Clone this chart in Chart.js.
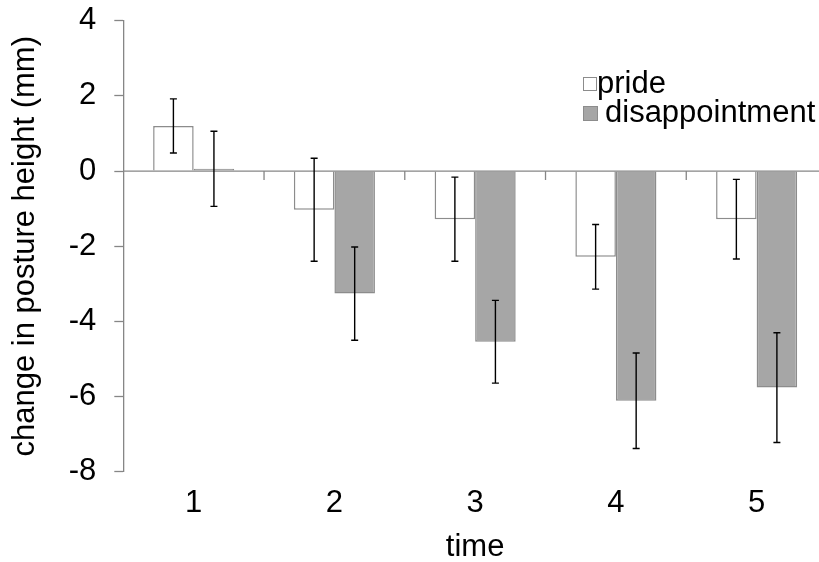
<!DOCTYPE html>
<html>
<head>
<meta charset="utf-8">
<script src="https://cdn.jsdelivr.net/npm/chart.js@4.4.1/dist/chart.umd.min.js"></script>
<style>
  html, body { margin: 0; padding: 0; background: #ffffff; overflow: hidden; }
  canvas { display: block; }
</style>
</head>
<body>
<canvas id="c" width="830" height="562"></canvas>
<script>
// ---- data ----
const categories = ['1', '2', '3', '4', '5'];
const seriesNames = ['pride', 'disappointment'];
const prideValues = [1.2, -1.03, -1.28, -2.28, -1.28];
const prideErrors = [0.72, 1.37, 1.12, 0.86, 1.06];
const disappointmentValues = [0.06, -3.26, -4.54, -6.11, -5.76];
const disappointmentErrors = [1.0, 1.24, 1.1, 1.27, 1.46];
const yMin = -8, yMax = 4, yStep = 2;
const xTitle = 'time';
const yTitle = 'change in posture height (mm)';

const FONT = '"Liberation Sans", Arial, sans-serif';
const FS = 31;
const AXIS = '#868686';
const errorSets = [prideErrors, disappointmentErrors];

const errorBars = {
  id: 'errorBars',
  afterDatasetsDraw(chart) {
    const ctx = chart.ctx, y = chart.scales.y;
    ctx.save();
    ctx.strokeStyle = '#000';
    ctx.lineWidth = 1.4;
    chart.data.datasets.forEach((ds, di) => {
      const meta = chart.getDatasetMeta(di);
      meta.data.forEach((bar, i) => {
        const v = ds.data[i], e = errorSets[di][i];
        const yt = y.getPixelForValue(v + e), yb = y.getPixelForValue(v - e);
        const x = bar.x;
        ctx.beginPath();
        ctx.moveTo(x, yt); ctx.lineTo(x, yb);
        ctx.moveTo(x - 3.5, yt); ctx.lineTo(x + 3.5, yt);
        ctx.moveTo(x - 3.5, yb); ctx.lineTo(x + 3.5, yb);
        ctx.stroke();
      });
    });
    ctx.restore();
  }
};

const axisDecor = {
  id: 'axisDecor',
  afterDatasetsDraw(chart) {
    const ctx = chart.ctx, xs = chart.scales.x, ys = chart.scales.y;
    const y0 = ys.getPixelForValue(0);
    ctx.save();
    ctx.strokeStyle = AXIS;
    ctx.lineWidth = 1.3;
    ctx.beginPath();
    ctx.moveTo(chart.chartArea.left, y0); ctx.lineTo(chart.chartArea.right, y0);
    for (let i = 1; i < categories.length; i++) {
      const xp = (xs.getPixelForValue(i - 1) + xs.getPixelForValue(i)) / 2;
      ctx.moveTo(xp, y0); ctx.lineTo(xp, y0 + 9);
    }
    ctx.stroke();
    ctx.restore();
  }
};

const customLegend = {
  id: 'customLegend',
  afterDraw(chart) {
    const ctx = chart.ctx;
    const items = [
      { box: [583, 77, 14], tx: 597, ty: 84 },
      { box: [583, 106, 15], tx: 605, ty: 113 }
    ];
    ctx.save();
    ctx.font = FS + 'px ' + FONT;
    ctx.textBaseline = 'middle';
    ctx.textAlign = 'left';
    chart.data.datasets.forEach((ds, i) => {
      const it = items[i];
      ctx.fillStyle = ds.backgroundColor;
      ctx.fillRect(it.box[0], it.box[1], it.box[2], it.box[2]);
      ctx.strokeStyle = ds.borderColor;
      ctx.lineWidth = 1;
      ctx.strokeRect(it.box[0] + 0.5, it.box[1] + 0.5, it.box[2] - 1, it.box[2] - 1);
      ctx.fillStyle = '#000';
      ctx.fillText(ds.label, it.tx, it.ty);
    });
    ctx.restore();
  }
};

new Chart(document.getElementById('c'), {
  type: 'bar',
  data: {
    labels: categories,
    datasets: [
      { label: seriesNames[0], data: prideValues, backgroundColor: '#ffffff', borderColor: '#8c8c8c', borderWidth: 1.5 },
      { label: seriesNames[1], data: disappointmentValues, backgroundColor: '#a6a6a6', borderColor: '#8c8c8c', borderWidth: 1.5 }
    ]
  },
  options: {
    responsive: false,
    animation: false,
    devicePixelRatio: 1,
    layout: { padding: { left: 0, right: 3, top: 20.7, bottom: 0 } },
    datasets: { bar: { categoryPercentage: 0.576, barPercentage: 1.0 } },
    plugins: { legend: { display: false }, tooltip: { enabled: false } },
    scales: {
      x: {
        grid: { display: false, drawTicks: false },
        border: { display: false },
        ticks: { color: '#000', font: { family: FONT, size: FS }, padding: 13, maxRotation: 0 },
        title: { display: true, text: xTitle, color: '#000', font: { family: FONT, size: FS }, padding: { top: 0, bottom: -4 } },
        afterFit(s) { s.height = 90.2; s.paddingLeft = 0; s.paddingRight = 0; }
      },
      y: {
        min: yMin, max: yMax,
        ticks: { stepSize: yStep, color: '#000', font: { family: FONT, size: FS }, padding: 18 },
        grid: { drawOnChartArea: false, drawTicks: true, tickLength: 9, tickColor: AXIS, tickWidth: 1.3 },
        border: { display: true, color: AXIS, width: 1.3 },
        title: { display: true, text: yTitle, color: '#000', font: { family: FONT, size: FS }, padding: { top: 7, bottom: 0 } },
        afterFit(s) { s.width = 123.3; s.paddingTop = 0; s.paddingBottom = 0; }
      }
    }
  },
  plugins: [axisDecor, errorBars, customLegend]
});
</script>
</body>
</html>
